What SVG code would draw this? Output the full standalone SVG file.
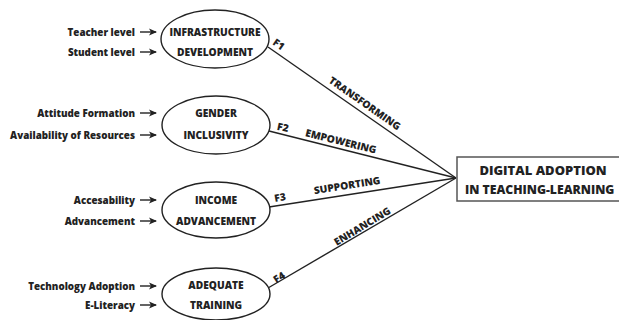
<svg xmlns="http://www.w3.org/2000/svg" width="619" height="320" viewBox="0 0 619 320">
<style>
text{font-family:"Open Sans","Noto Sans","Liberation Sans",sans-serif;font-weight:800;fill:#222;dominant-baseline:central}
.in{font-size:9.8px;text-anchor:end}
.el{fill:#fff;stroke:#222;stroke-width:1.4}
.nt{font-size:10.2px;text-anchor:middle}
.arr{stroke:#222;stroke-width:1.4;fill:none;marker-end:url(#ah)}
.con{stroke:#222;stroke-width:1.4;fill:none}
.lb{font-size:10.2px;text-anchor:middle}
.box{fill:#fff;stroke:#555;stroke-width:1.5}
.bt{font-size:13px;text-anchor:middle}
</style>
<defs>
<marker id="ah" markerWidth="8" markerHeight="8" refX="7" refY="4" orient="auto" markerUnits="userSpaceOnUse">
<path d="M0,0.5 L8,4 L0,7.5 L2,4 Z" fill="#222"/>
</marker>
</defs>
<g id="connectors">
<line class="con" x1="268" y1="47" x2="456" y2="178"/>
<line class="con" x1="269" y1="131" x2="456" y2="178"/>
<line class="con" x1="269" y1="207" x2="456" y2="178"/>
<line class="con" x1="268" y1="288" x2="456" y2="178"/>
<text class="lb" transform="translate(279,44) rotate(35)">F1</text>
<text class="lb" transform="translate(283,127) rotate(12)">F2</text>
<text class="lb" transform="translate(280,197) rotate(-10)">F3</text>
<text class="lb" transform="translate(279,277) rotate(-33)">F4</text>
<text class="lb" transform="translate(365,103) rotate(35)">TRANSFORMING</text>
<text class="lb" transform="translate(341,141) rotate(14)">EMPOWERING</text>
<text class="lb" transform="translate(347,185) rotate(-9)">SUPPORTING</text>
<text class="lb" transform="translate(362,226) rotate(-31)">ENHANCING</text>
</g>
<g id="n1">
<text class="in" x="135" y="32">Teacher level</text>
<text class="in" x="135" y="52">Student level</text>
<line class="arr" x1="140" y1="32" x2="156" y2="32"/>
<line class="arr" x1="140" y1="52" x2="156" y2="52"/>
<ellipse class="el" cx="215" cy="39" rx="54" ry="29"/>
<text class="nt" x="215" y="32">INFRASTRUCTURE</text>
<text class="nt" x="215" y="52">DEVELOPMENT</text>
</g>
<g id="n2">
<text class="in" x="135" y="113">Attitude Formation</text>
<text class="in" x="135" y="135">Availability of Resources</text>
<line class="arr" x1="140" y1="113" x2="156" y2="113"/>
<line class="arr" x1="140" y1="135" x2="156" y2="135"/>
<ellipse class="el" cx="216" cy="125" rx="54" ry="29"/>
<text class="nt" x="216" y="113">GENDER</text>
<text class="nt" x="216" y="135">INCLUSIVITY</text>
</g>
<g id="n3">
<text class="in" x="135" y="200">Accesability</text>
<text class="in" x="135" y="221">Advancement</text>
<line class="arr" x1="140" y1="200" x2="156" y2="200"/>
<line class="arr" x1="140" y1="221" x2="156" y2="221"/>
<ellipse class="el" cx="216" cy="210" rx="54" ry="28"/>
<text class="nt" x="216" y="200">INCOME</text>
<text class="nt" x="216" y="221">ADVANCEMENT</text>
</g>
<g id="n4">
<text class="in" x="135" y="286">Technology Adoption</text>
<text class="in" x="135" y="305">E-Literacy</text>
<line class="arr" x1="140" y1="286" x2="156" y2="286"/>
<line class="arr" x1="140" y1="305" x2="156" y2="305"/>
<ellipse class="el" cx="216" cy="294" rx="54" ry="26"/>
<text class="nt" x="216" y="285">ADEQUATE</text>
<text class="nt" x="216" y="305">TRAINING</text>
</g>
<g id="target">
<rect class="box" x="457" y="157" width="175" height="44"/>
<text class="bt" x="543" y="170">DIGITAL ADOPTION</text>
<text x="465" y="189" style="font-size:12.2px">IN TEACHING-LEARNING</text>
</g>
</svg>
